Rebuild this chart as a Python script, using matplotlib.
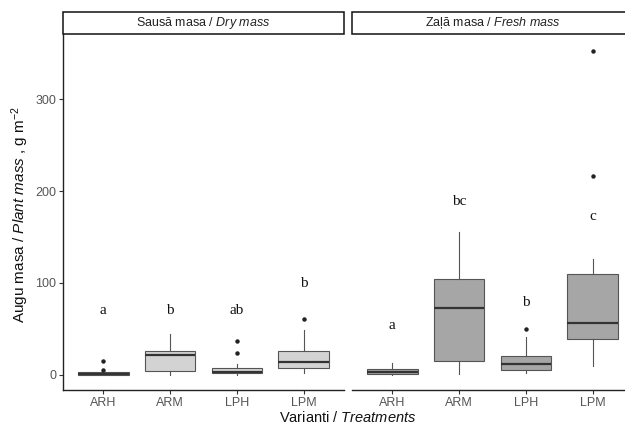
import matplotlib
matplotlib.use('Agg')
import matplotlib.pyplot as plt
from matplotlib.patches import Rectangle

plt.rcParams['font.family'] = ['Liberation Sans', 'DejaVu Sans']
plt.rcParams['mathtext.fontset'] = 'custom'
plt.rcParams['mathtext.rm'] = 'Liberation Sans'
plt.rcParams['mathtext.it'] = 'Liberation Sans:italic'

# %% data
treatments = ['ARH', 'ARM', 'LPH', 'LPM']

# dry mass
dry_whislo = [0, 0, 0, 2]
dry_q1 = [0, 3.7, 2, 7.3]
dry_med = [1, 22, 3.3, 13.8]
dry_q3 = [2.5, 25.5, 7.3, 25.5]
dry_whishi = [3, 44, 11.3, 48.4]
dry_fliers = [[5, 15], [], [24, 36.4], [61]]
dry_letters = ['a', 'b', 'ab', 'b']
dry_letter_y = [70, 70, 70, 99]

# fresh mass
fresh_whislo = [0, 1, 2, 9]
fresh_q1 = [0.8, 15, 4.8, 39.3]
fresh_med = [3, 72.7, 12, 56.4]
fresh_q3 = [5.9, 104.7, 20, 110]
fresh_whishi = [12.8, 155, 41, 126]
fresh_fliers = [[], [], [49.8], [217, 353]]
fresh_letters = ['a', 'bc', 'b', 'c']
fresh_letter_y = [54, 189, 79, 172]

# %%
fig = plt.figure(figsize=(6.25, 4.24), dpi=100)
W, H = 625, 424
ax_bottom = 1 - 390.3 / H
ax_height = (390.3 - 34.3) / H
ax_w = 281 / W

ax1 = fig.add_axes([63 / W, ax_bottom, ax_w, ax_height])
ax2 = fig.add_axes([352 / W, ax_bottom, ax_w, ax_height])

panels = [
    (ax1, dry_whislo, dry_q1, dry_med, dry_q3, dry_whishi, dry_fliers, dry_letters, dry_letter_y, '#d3d3d3',
     r'Sausă masa / $\it{Dry\ mass}$'),
    (ax2, fresh_whislo, fresh_q1, fresh_med, fresh_q3, fresh_whishi, fresh_fliers, fresh_letters, fresh_letter_y, '#a6a6a6',
     r'Zaļā masa / $\it{Fresh\ mass}$'),
]

for ax, wl, q1, med, q3, wh, fl, letters, ly, fill, title in panels:
    stats = []
    for i in range(len(treatments)):
        stats.append({'whislo': wl[i], 'q1': q1[i], 'med': med[i], 'q3': q3[i],
                      'whishi': wh[i], 'fliers': fl[i], 'label': treatments[i]})
    ax.bxp(stats, positions=range(1, 5), widths=0.76, patch_artist=True, showcaps=False,
           boxprops=dict(facecolor=fill, edgecolor='#555555', linewidth=0.8),
           medianprops=dict(color='#333333', linewidth=1.6),
           whiskerprops=dict(color='#555555', linewidth=0.8),
           flierprops=dict(marker='o', markersize=2.2, markerfacecolor='#222222',
                           markeredgecolor='#222222'))
    for i, t in enumerate(letters):
        ax.text(i + 1, ly[i], t, ha='center', va='center', fontsize=11,
                family='Liberation Serif', color='#111111')
    ax.set_xlim(0.4, 4.6)
    ax.set_ylim(-17, 371)
    ax.set_xticks(range(1, 5))
    ax.set_xticklabels(treatments)
    ax.tick_params(axis='x', colors='#333333', labelcolor='#555555', labelsize=9, length=3, width=0.8, pad=2)
    for s in ['top', 'right']:
        ax.spines[s].set_visible(False)
    ax.spines['bottom'].set_color('#222222')
    ax.spines['bottom'].set_linewidth(1)
    # facet strip
    ax.add_patch(Rectangle((0, 1.0), 1, 22 / 356, transform=ax.transAxes, clip_on=False,
                           facecolor='white', edgecolor='#111111', linewidth=1.1))
    ax.text(0.5, 1 + 11 / 356, title, transform=ax.transAxes, ha='center', va='center',
            fontsize=9, color='#222222')

ax1.set_yticks([0, 100, 200, 300])
ax1.tick_params(axis='y', colors='#333333', labelcolor='#555555', labelsize=9, length=3, width=0.8, pad=2)
ax1.spines['left'].set_color('#222222')
ax1.spines['left'].set_linewidth(1)

ax2.spines['left'].set_visible(False)
ax2.set_yticks([])

fig.text(348 / W, 1 - 418 / H, r'Varianti / $\it{Treatments}$', ha='center', va='center', fontsize=10.5, color='#111111')
fig.text(20 / W, 1 - 214 / H, r'Augu masa / $\it{Plant\ mass}$ , g m$^{-2}$', ha='center', va='center',
         rotation=90, fontsize=11, color='#111111')

fig.savefig('out.png', dpi=100)
